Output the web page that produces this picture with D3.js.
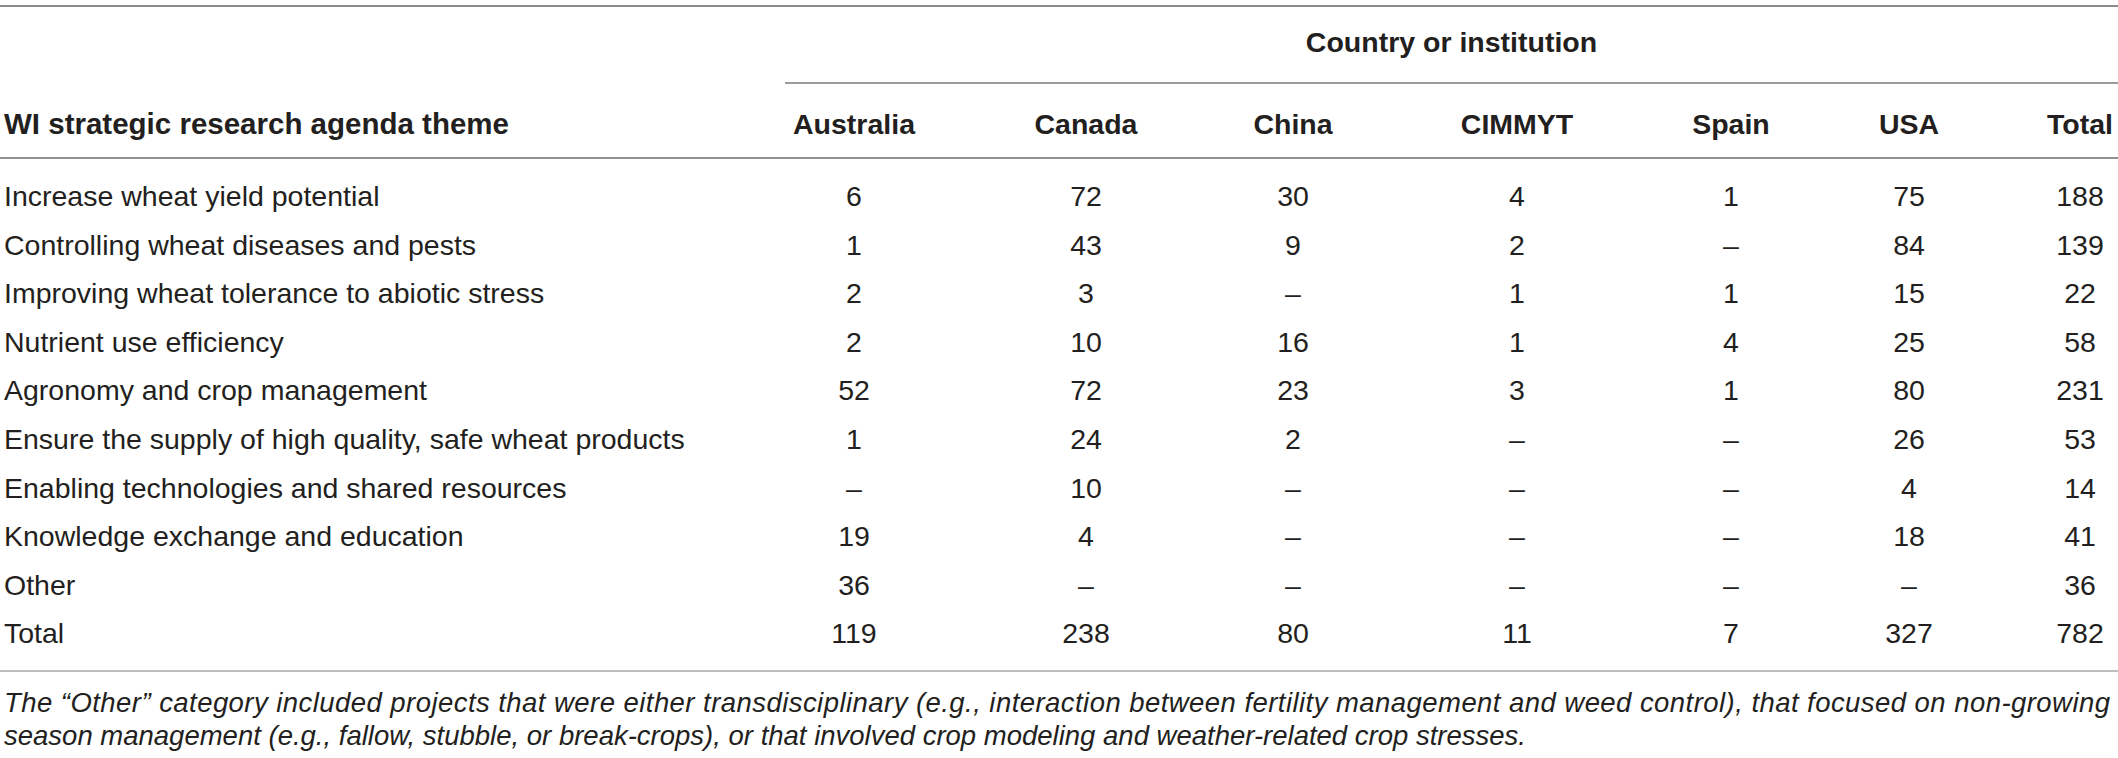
<!DOCTYPE html>
<html>
<head>
<meta charset="utf-8">
<script src="https://cdn.jsdelivr.net/npm/d3@7"></script>
<style>
  html, body { margin: 0; padding: 0; background: #fff; }
  svg { display: block; }
  text { font-family: "Liberation Sans", Arial, Helvetica, sans-serif; fill: #231f20; }
</style>
</head>
<body>
<div id="table"></div>
<script>
// data
const themes = [
  "Increase wheat yield potential",
  "Controlling wheat diseases and pests",
  "Improving wheat tolerance to abiotic stress",
  "Nutrient use efficiency",
  "Agronomy and crop management",
  "Ensure the supply of high quality, safe wheat products",
  "Enabling technologies and shared resources",
  "Knowledge exchange and education",
  "Other",
  "Total"
];
const columns = ["Australia", "Canada", "China", "CIMMYT", "Spain", "USA", "Total"];
// null = no projects (shown as a dash)
const australia = [6, 1, 2, 2, 52, 1, null, 19, 36, 119];
const canada    = [72, 43, 3, 10, 72, 24, 10, 4, null, 238];
const china     = [30, 9, null, 16, 23, 2, null, null, null, 80];
const cimmyt    = [4, 2, 1, 1, 3, null, null, null, null, 11];
const spain     = [1, null, 1, 4, 1, null, null, null, null, 7];
const usa       = [75, 84, 15, 25, 80, 26, 4, 18, null, 327];
const total     = [188, 139, 22, 58, 231, 53, 14, 41, 36, 782];
const groupTitle = "Country or institution";
const rowTitle = "WI strategic research agenda theme";
const footnote = [
  "The \u201cOther\u201d category included projects that were either transdisciplinary (e.g., interaction between fertility management and weed control), that focused on non-growing",
  "season management (e.g., fallow, stubble, or break-crops), or that involved crop modeling and weather-related crop stresses."
];

const series = [australia, canada, china, cimmyt, spain, usa, total];

// layout
const width = 2118, height = 758;
const fs = 28.5;
const left = 4;

const svg = d3.select("#table").append("svg")
  .attr("width", width)
  .attr("height", height);

const x = d3.scaleOrdinal()
  .domain(columns)
  .range([854, 1086, 1293, 1517, 1731, 1909, 2080]);

const y = d3.scalePoint()
  .domain(themes)
  .range([196, 633]);

// rules
const rules = [
  {x1: 0, x2: width, y: 6, c: "#8c8c8c", w: 2},
  {x1: 785, x2: width, y: 83, c: "#7a7a7a", w: 1.6},
  {x1: 0, x2: width, y: 158, c: "#6e6e6e", w: 1.6},
  {x1: 0, x2: width, y: 671, c: "#bdbdbd", w: 2}
];
svg.selectAll("line.rule")
  .data(rules)
  .enter().append("line")
  .attr("class", "rule")
  .attr("x1", d => d.x1).attr("x2", d => d.x2)
  .attr("y1", d => d.y).attr("y2", d => d.y)
  .attr("stroke", d => d.c)
  .attr("stroke-width", d => d.w);

// header
svg.append("text")
  .attr("x", (785 + width) / 2)
  .attr("y", 42 + fs * 0.36)
  .attr("text-anchor", "middle")
  .style("font-weight", "bold")
  .style("font-size", fs + "px")
  .text(groupTitle);

svg.append("text")
  .attr("x", left)
  .attr("y", 124 + fs * 0.36)
  .style("font-weight", "bold")
  .style("font-size", (fs + 1) + "px")
  .text(rowTitle);

svg.selectAll("text.colhead")
  .data(columns)
  .enter().append("text")
  .attr("class", "colhead")
  .attr("x", d => x(d))
  .attr("y", 124 + fs * 0.36)
  .attr("text-anchor", "middle")
  .style("font-weight", "bold")
  .style("font-size", fs + "px")
  .text(d => d);

// body
const rows = svg.selectAll("g.row")
  .data(themes)
  .enter().append("g")
  .attr("class", "row")
  .attr("transform", d => "translate(0," + (y(d) + fs * 0.36) + ")");

rows.append("text")
  .attr("x", left)
  .style("font-size", fs + "px")
  .text(d => d);

rows.selectAll("text.cell")
  .data((d, i) => columns.map((c, j) => ({col: c, v: series[j][i]})))
  .enter().append("text")
  .attr("class", "cell")
  .attr("x", d => x(d.col))
  .attr("text-anchor", "middle")
  .style("font-size", fs + "px")
  .text(d => d.v == null ? "\u2013" : d.v);

// footnote
svg.selectAll("text.note")
  .data(footnote)
  .enter().append("text")
  .attr("class", "note")
  .attr("x", left)
  .attr("y", (d, i) => 702 + i * 33 + fs * 0.36)
  .style("font-style", "italic")
  .style("font-size", (fs - 1) + "px")
  .each(function (d, i) {
    if (i === 0) d3.select(this).attr("textLength", width - left - 8).attr("lengthAdjust", "spacing");
  })
  .text(d => d);
</script>
</body>
</html>
